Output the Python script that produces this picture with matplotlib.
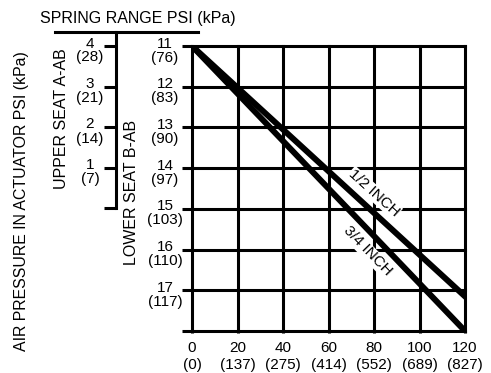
import matplotlib
matplotlib.use('Agg')
import matplotlib.pyplot as plt

plt.rcParams['font.family'] = ['Liberation Sans', 'DejaVu Sans']
plt.rcParams['font.size'] = 11

# spring range data
travel = [0, 20, 40, 60, 80, 100, 120]
travel_kpa = ['(0)', '(137)', '(275)', '(414)', '(552)', '(689)', '(827)']
lower_psi = [11, 12, 13, 14, 15, 16, 17, 18]
lower_kpa = ['(76)', '(83)', '(90)', '(97)', '(103)', '(110)', '(117)', '']
upper_psi = [0, 1, 2, 3, 4]
upper_kpa = ['', '(7)', '(14)', '(21)', '(28)']

half_x = [0, 120]
half_y = [11, 17.15]
three_q_x = [0, 120]
three_q_y = [11, 18]

W, H = 491, 373
LW = 2.2
TICK_FS = 11
LABEL_FS = 11.5


def fx(px):
    return px / W


def fy(py):
    return (H - py) / H


fig = plt.figure(figsize=(W / 100, H / 100), dpi=100)

# main chart (lower seat scale)
ax = fig.add_axes([fx(192), fy(331), fx(465) - fx(192), fy(46) - fy(331)])
ax.set_xlim(0, 120)
ax.set_ylim(18, 11)
for s in ax.spines.values():
    s.set_visible(False)
for v in travel:
    ax.axvline(v, color='black', lw=LW, clip_on=False, zorder=1)
for v in lower_psi:
    ax.axhline(v, color='black', lw=LW, clip_on=False, zorder=1)

ax.set_xticks(travel)
ax.set_xticklabels([f'{t}\n{k}' for t, k in zip(travel, travel_kpa)], linespacing=1.2)
ax.tick_params(axis='x', length=1.5, width=LW, pad=6, labelsize=TICK_FS)
ax.set_yticks(lower_psi)
ax.set_yticklabels([])
ax.tick_params(axis='y', length=7.2, width=LW, pad=0)

for v, k in zip(lower_psi, lower_kpa):
    if not k:
        continue
    ax.annotate(f'{v}\n{k}', xy=(0, v), xycoords=('axes fraction', 'data'),
                xytext=(-27, -4.5), textcoords='offset pixels',
                ha='center', va='center', multialignment='center',
                linespacing=1.0, fontsize=TICK_FS)

ax.plot(half_x, half_y, color='black', lw=4.3, zorder=4)
ax.plot(three_q_x, three_q_y, color='black', lw=4.3, zorder=4)

ax.text(80, 14.61, '1/2 INCH', rotation=-42, rotation_mode='anchor',
        ha='center', va='center', fontsize=TICK_FS, zorder=3,
        bbox=dict(facecolor='white', edgecolor='none', pad=0.5))
ax.text(77, 16.04, '3/4 INCH', rotation=-46, rotation_mode='anchor',
        ha='center', va='center', fontsize=TICK_FS, zorder=3,
        bbox=dict(facecolor='white', edgecolor='none', pad=0.5))

# upper seat scale with header line
ax2 = fig.add_axes([fx(55), fy(208), fx(198) - fx(55), fy(32) - fy(208)])
ax2.patch.set_visible(False)
ax2.set_ylim(0, 4 * (208 - 32) / (208 - 46))
ax2.set_xlim(0, 1)
spine_x = (116 - 55) / (198 - 55)
ax2.spines['left'].set_position(('axes', spine_x))
ax2.spines['left'].set_linewidth(LW)
ax2.spines['top'].set_linewidth(LW)
ax2.spines['right'].set_visible(False)
ax2.spines['bottom'].set_visible(False)
ax2.set_xticks([])
ax2.set_yticks(upper_psi)
ax2.set_yticklabels([])
ax2.tick_params(axis='y', length=8.6, width=LW, pad=0)
for v, k in zip(upper_psi, upper_kpa):
    if not k:
        continue
    ax2.annotate(f'{v}\n{k}', xy=(spine_x, v), xycoords=('axes fraction', 'data'),
                 xytext=(-26, -4.5), textcoords='offset pixels',
                 ha='center', va='center', multialignment='center',
                 linespacing=1.0, fontsize=TICK_FS)

fig.text(fx(138), fy(18), 'SPRING RANGE PSI (kPa)', ha='center', va='center', fontsize=LABEL_FS)
fig.text(fx(22), fy(201.5), 'AIR PRESSURE IN ACTUATOR PSI (kPa)', rotation=90,
         ha='center', va='center', fontsize=11.4)
fig.text(fx(62), fy(119), 'UPPER SEAT A-AB', rotation=90, ha='center', va='center', fontsize=LABEL_FS)
fig.text(fx(131), fy(192), 'LOWER SEAT B-AB', rotation=90, ha='center', va='center', fontsize=LABEL_FS)

fig.savefig('out.png', dpi=100, facecolor='white')
